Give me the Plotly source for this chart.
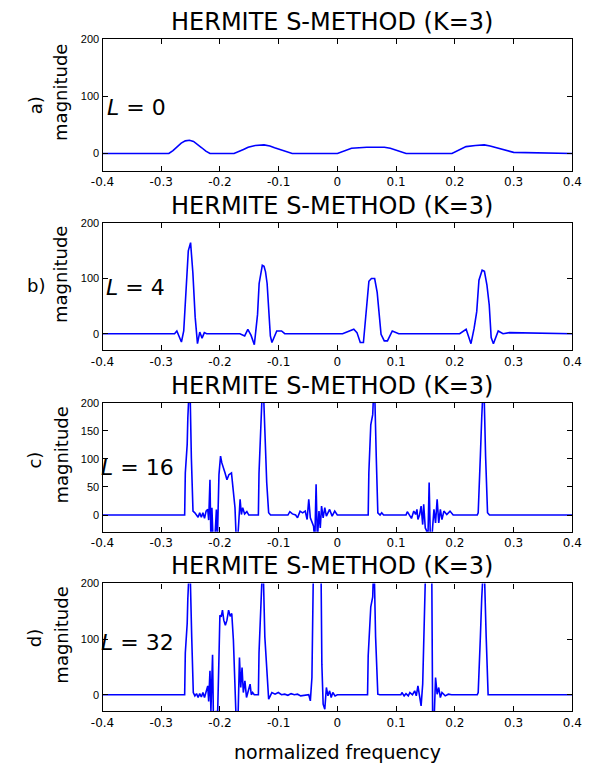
import plotly.graph_objects as go

W, H = 591, 768

# ---------------- data ----------------
x_tick_vals = [-0.4, -0.3, -0.2, -0.1, 0, 0.1, 0.2, 0.3, 0.4]
x_tick_text = ["-0.4", "-0.3", "-0.2", "-0.1", "0", "0.1", "0.2", "0.3", "0.4"]
y_ticks_abd = [0, 100, 200]
y_ticks_c = [0, 50, 100, 150, 200]

panel_letters = ["a)", "b)", "c)", "d)"]
panel_L = ["0", "4", "16", "32"]
title_text = "HERMITE S-METHOD (K=3)"
xlabel_text = "normalized frequency"
ylabel_text = "magnitude"

# a) L = 0
a_x = [-0.40, -0.287, -0.280, -0.273, -0.266, -0.259, -0.252, -0.245, -0.238, -0.231, -0.224, -0.217,
       -0.176, -0.168, -0.160, -0.152, -0.140, -0.125, -0.115, -0.107, -0.099, -0.091, -0.083, -0.077,
       0.000, 0.008, 0.016, 0.024, 0.050, 0.080, 0.090, 0.100, 0.108, 0.117,
       0.195, 0.203, 0.211, 0.219, 0.235, 0.250, 0.260, 0.270, 0.280, 0.290, 0.300, 0.40]
a_y = [0, 0, 5, 11, 18, 22, 23, 21, 16, 10, 4, 0,
       0, 3, 7, 11, 14, 15, 13, 10, 7, 4, 2, 0,
       0, 3, 6, 9, 11, 11, 9, 6, 3, 0,
       0, 4, 8, 12, 14, 15, 13, 10, 7, 4, 2, 0]

# b) L = 4
b_x = [-0.40, -0.2773, -0.2734, -0.2695, -0.2656, -0.2617, -0.2578, -0.2539, -0.2500, -0.2461, -0.2422,
       -0.2383, -0.2344, -0.2305, -0.2266, -0.2227,
       -0.1661, -0.1579, -0.1525, -0.1470, -0.1415, -0.1360, -0.1333, -0.1279, -0.1250, -0.1224,
       -0.1197, -0.1169, -0.1142, -0.1115, -0.1033, -0.0951, -0.0897,
       0.0088, 0.0197, 0.0279, 0.0333, 0.0389, 0.0443, 0.0497, 0.0536, 0.0579, 0.0634, 0.0677,
       0.0716, 0.0743, 0.0798, 0.0852, 0.0934, 0.1044,
       0.2082, 0.2192, 0.2274, 0.2328, 0.2372, 0.2410, 0.2464, 0.2503, 0.2546, 0.2585, 0.2618,
       0.2656, 0.2738, 0.2820, 0.2929, 0.40]
b_y = [0, 0, 5, -5, -15, 5, 90, 150, 165, 110, 30,
       -18, 3, -8, 2, 0,
       0, -4, 8, -3, -20, 35, 91, 124, 122, 112,
       91, 46, -4, -16, 5, 5, 0,
       0, 5, 8, 2, -16, -16, 52, 95, 100, 100, 75,
       30, -1, -13, -13, 5, 0,
       0, 8, -18, 10, 40, 97, 115, 113, 88, 52, -7,
       -18, 5, 0, 2, 0]

# c) L = 16
c_x = [-0.40, -0.2601, -0.2590, -0.2558, -0.2547, -0.2514, -0.2487, -0.2459, -0.2427, -0.2399, -0.2372,
       -0.2345, -0.2317, -0.2290, -0.2263, -0.2236, -0.2208, -0.2192, -0.2170, -0.2154, -0.2137,
       -0.2115, -0.2088, -0.2061, -0.2044, -0.2017, -0.1990, -0.1968, -0.1946, -0.1913, -0.1881,
       -0.1848, -0.1804, -0.1771, -0.1744, -0.1722, -0.1700, -0.1679, -0.1657, -0.1635, -0.1613,
       -0.1580, -0.1542, -0.1509, -0.1346, -0.1335, -0.1302, -0.1269, -0.1236, -0.1204, -0.1171,
       -0.1138, -0.0843, -0.0810, -0.0767, -0.0712, -0.0679, -0.0636, -0.0592, -0.0548, -0.0516,
       -0.0488, -0.0461, -0.0434, -0.0406, -0.0385, -0.0363, -0.0341, -0.0314, -0.0292, -0.0270,
       -0.0243, -0.0215, -0.0188, -0.0133, -0.0090, -0.0046, -0.0002,
       0.0524, 0.0535, 0.0568, 0.0601, 0.0628, 0.0661, 0.0688, 0.0726, 0.0754, 0.0786,
       0.1168, 0.1190, 0.1223, 0.1261, 0.1300, 0.1332, 0.1354, 0.1371, 0.1398, 0.1425,
       0.1452, 0.1469, 0.1496, 0.1518, 0.1540, 0.1562, 0.1583, 0.1605, 0.1622, 0.1644,
       0.1671, 0.1698, 0.1725, 0.1753, 0.1780, 0.1813, 0.1862, 0.1917, 0.1971,
       0.2381, 0.2397, 0.2413, 0.2435, 0.2457, 0.2490, 0.2523, 0.2556, 0.2589, 0.40]
c_y = [0, 0, 75, 126, 173, 250, 102, 7, 4, 0, -4,
       4, -4, 4, -6, 7, 10, -9, 63, -46, 13,
       -52, -46, 10, -46, 72, 105, 93, 84, 75, 63,
       72, 75, 43, 13, -46, -46, -11, 28, 1, 13,
       2, 6, 0, 0, 75, 173, 250, 152, 58, 4,
       0, 0, 6, 2, 0, -5, 7, 4, 7, -8,
       28, -5, -14, -20, -46, 55, -46, 7, -23, 16,
       -5, 13, -2, 10, -2, 7, 0,
       0, 75, 161, 179, 250, 105, 4, 0, 4, 0,
       0, 6, 0, -6, 7, 1, 10, -8, 0, 16,
       -17, 19, -23, -28, -46, 58, -46, -46, -20, 10,
       -14, 28, -14, 10, -8, 7, 1, 7, 0,
       0, 4, 37, 108, 173, 250, 105, 4, 0, 0]

# d) L = 32
d_x = [-0.40, -0.2601, -0.2590, -0.2558, -0.2547, -0.2514, -0.2481, -0.2454, -0.2427, -0.2399, -0.2372,
       -0.2345, -0.2317, -0.2290, -0.2263, -0.2236, -0.2208, -0.2192, -0.2170, -0.2154, -0.2126,
       -0.2110, -0.2088, -0.2066, -0.2044, -0.2017, -0.2001, -0.1979, -0.1957, -0.1935, -0.1908,
       -0.1881, -0.1853, -0.1826, -0.1799, -0.1771, -0.1744, -0.1722, -0.1695, -0.1668, -0.1646,
       -0.1624, -0.1602, -0.1575, -0.1548, -0.1520, -0.1487, -0.1466, -0.1444, -0.1416, -0.1346,
       -0.1335, -0.1302, -0.1269, -0.1236, -0.1204, -0.1171, -0.1143, -0.1116, -0.1062, -0.1007,
       -0.0952, -0.0898, -0.0843, -0.0789, -0.0734, -0.0679, -0.0625, -0.0543, -0.0488, -0.0461,
       -0.0434, -0.0406, -0.0281, -0.0265, -0.0243, -0.0215, -0.0188, -0.0161, -0.0133, -0.0106,
       -0.0079, -0.0040, -0.0002, 0.0087,
       0.0513, 0.0524, 0.0568, 0.0601, 0.0622, 0.0650, 0.0688, 0.0721,
       0.1081, 0.1098, 0.1136, 0.1168, 0.1207, 0.1234, 0.1278, 0.1316, 0.1343, 0.1371,
       0.1398, 0.1425, 0.1452, 0.1480, 0.1507, 0.1605, 0.1622, 0.1644, 0.1671, 0.1698,
       0.1725, 0.1753, 0.1780, 0.1835, 0.1889, 0.1944,
       0.2381, 0.2397, 0.2413, 0.2435, 0.2457, 0.2495, 0.2533, 0.2566, 0.40]
d_y = [0, 0, 75, 128, 173, 250, 104, 4, -2, 2, -5,
       2, -4, 4, -5, 7, 16, -12, 43, -29, 72,
       -53, -53, -29, -53, 67, 143, 140, 152, 134, 125,
       134, 152, 141, 146, 98, 7, -53, -53, 67, 13,
       49, 4, 25, -5, 7, 19, 0, 4, 0, 0,
       75, 173, 250, 104, 49, -8, -2, 4, 1, 4,
       0, 1, -1, 2, 0, 1, -2, 0, 0, -11,
       31, 250, 250, 55, -17, -26, 13, -2, 7, -5,
       4, -2, 0, 0,
       0, 70, 158, 176, 250, 104, 1, 0,
       0, 4, -2, 2, -2, 4, 0, 7, -2, 16,
       -5, -20, 19, 137, 250, 250, -53, -53, 31, 1,
       13, -5, 4, -2, 1, 0,
       0, 4, 37, 106, 173, 250, 104, 0, 0]

series_x = [a_x, b_x, c_x, d_x]
series_y = [a_y, b_y, c_y, d_y]

# ---------------- layout geometry (pixels) ----------------
plot_left, plot_right = 94, 582
boxes = [(33, 166), (219, 347), (400, 530), (582, 711)]  # (top, bottom) in px
letter_pos = [(24, 100), (25, 282), (23, 458), (23, 637)]
L_pos = [(97, 102), (96, 284), (90, 465), (90, 642)]


def px_x(p):
    return p / W


def px_y(p):
    return 1 - p / H


fig = go.Figure()
BLUE = "#0000ff"
FONT = "DejaVu Sans, Verdana, sans-serif"
TFONT = "Liberation Sans Narrow, Liberation Sans, Arial, sans-serif"

for i in range(4):
    sfx = "" if i == 0 else str(i + 1)
    fig.add_trace(go.Scatter(
        x=series_x[i], y=series_y[i], mode="lines",
        line=dict(color=BLUE, width=1.6),
        xaxis="x" + sfx, yaxis="y" + sfx, showlegend=False, hoverinfo="skip"))
    top, bot = boxes[i]
    yt = y_ticks_c if i == 2 else y_ticks_abd
    fig.layout["xaxis" + sfx] = dict(
        domain=[px_x(plot_left), px_x(plot_right)], range=[-0.4, 0.4],
        anchor="y" + sfx, tickmode="array", tickvals=x_tick_vals, ticktext=x_tick_text,
        ticks="inside", ticklen=5, tickcolor="black", tickwidth=1,
        showline=True, linecolor="black", linewidth=1.2, mirror="ticks",
        showgrid=False, zeroline=False, ticklabeloverflow="allow",
        tickfont=dict(family=FONT, size=12, color="black"))
    fig.layout["yaxis" + sfx] = dict(
        domain=[px_y(bot), px_y(top)], range=[-30, 200],
        anchor="x" + sfx, tickmode="array", tickvals=yt,
        ticktext=[str(v) for v in yt],
        ticks="inside", ticklen=5, tickcolor="black", tickwidth=1,
        showline=True, linecolor="black", linewidth=1.2, mirror="ticks",
        showgrid=False, zeroline=False, ticklabeloverflow="allow",
        tickfont=dict(family=TFONT, size=11, color="black"))

    cx = px_x((plot_left + plot_right) / 2 - 6)
    # title
    fig.add_annotation(text=title_text, xref="paper", yref="paper",
                       x=cx, y=px_y(top - 1), xanchor="center", yanchor="bottom",
                       showarrow=False, font=dict(family=FONT, size=24, color="black"))
    # y label
    fig.add_annotation(text=ylabel_text, xref="paper", yref="paper",
                       x=px_x(51), y=px_y((top + bot) / 2 - 12), xanchor="center",
                       yanchor="middle", textangle=-90, showarrow=False,
                       font=dict(family=FONT, size=18, color="black"))
    # panel letter
    lx, ly = letter_pos[i]
    fig.add_annotation(text=panel_letters[i], xref="paper", yref="paper",
                       x=px_x(lx), y=px_y(ly), xanchor="center", yanchor="middle",
                       textangle=0 if i == 1 else -90, showarrow=False,
                       font=dict(family=FONT, size=18, color="black"))
    # L = n label
    Lx, Ly = L_pos[i]
    fig.add_annotation(text="<i>L</i> = " + panel_L[i], xref="paper", yref="paper",
                       x=px_x(Lx), y=px_y(Ly), xanchor="left", yanchor="middle",
                       showarrow=False, font=dict(family=FONT, size=22, color="black"))

fig.add_annotation(text=xlabel_text, xref="paper", yref="paper",
                   x=px_x((plot_left + plot_right) / 2), y=px_y(752), xanchor="center",
                   yanchor="middle", showarrow=False,
                   font=dict(family=FONT, size=19, color="black"))

fig.update_layout(width=W, height=H, margin=dict(l=0, r=0, t=0, b=0),
                  paper_bgcolor="white", plot_bgcolor="white")

fig.write_html("out.html")
